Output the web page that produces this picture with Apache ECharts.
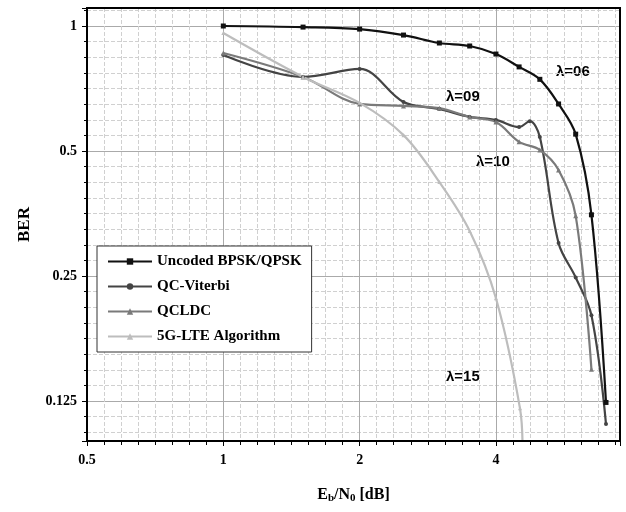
<!DOCTYPE html>
<html><head><meta charset="utf-8">
<script src="https://cdn.jsdelivr.net/npm/echarts@6/dist/echarts.min.js"></script>
<style>html,body{margin:0;padding:0;background:#fff}#c{width:626px;height:512px}</style>
</head><body><div id="c"></div>
<script>
const uncodedX = [1,1.5,2,2.5,3,3.5,4,4.5,5,5.5,6,6.5,7];
const uncodedY = [1,0.994,0.983,0.951,0.910,0.895,0.856,0.797,0.744,0.649,0.549,0.351,0.124];
const viterbiX = [1,1.5,2,2.5,3,3.5,4,4.5,4.75,5,5.5,6,6.5,7];
const viterbiY = [0.851,0.754,0.788,0.656,0.631,0.604,0.594,0.571,0.590,0.540,0.300,0.248,0.201,0.110];
const qcldcX = [1,1.5,2,2.5,3,3.5,4,4.5,5,5.5,6,6.5];
const qcldcY = [0.861,0.754,0.649,0.642,0.634,0.604,0.587,0.526,0.503,0.450,0.349,0.149];
const lteX = [1,1.5,2,2.5,3,3.5,4,4.52,4.58];
const lteY = [0.962,0.754,0.653,0.546,0.421,0.321,0.221,0.120,0.095];
const xTicks = [0.5,1,2,4];
const yTicks = [0.125,0.25,0.5,1];

const L = Math.log2;
const pts = (xs, ys) => xs.map((x,i)=>[L(x), L(ys[i])]);
const fmt = v => { const r = Math.round(v); if (Math.abs(v-r)>1e-6) return ''; const t = Math.pow(2,r); return String(t); };
const serif = 'Liberation Serif';
const mk = (name, xs, ys, color, symbol, size) => ({
  name, type:'line', data: pts(xs,ys), smooth:0.35, symbol, symbolSize:size,
  lineStyle:{color, width:2.2}, itemStyle:{color}, z:3, clip:true
});
const lam = 'bold 15px "Liberation Sans"';
const chart = echarts.init(document.getElementById('c'));
chart.setOption({
  animation:false,
  grid:{left:87, right:6, top:8, bottom:71},
  xAxis:{type:'value', min:L(0.5), max:2.91, splitNumber:4,
    axisLine:{onZero:false, lineStyle:{color:'#000', width:2}},
    axisTick:{show:true, inside:false, length:5, lineStyle:{color:'#000'}},
    minorTick:{show:true, splitNumber:8, length:4, lineStyle:{color:'#000'}},
    splitLine:{show:true, lineStyle:{color:'#aaa', width:1}},
    minorSplitLine:{show:true, lineStyle:{color:'#d0d0d0', type:'dashed'}},
    axisLabel:{formatter:fmt, showMaxLabel:false, color:'#000', fontFamily:serif, fontWeight:'bold', fontSize:14, margin:12},
    name:'{a|E}{s|b}{a|/N}{s|0}{a| [dB]}', nameLocation:'middle', nameGap:44,
    nameTextStyle:{rich:{a:{fontFamily:serif, fontWeight:'bold', fontSize:16, color:'#000'}, s:{fontFamily:serif, fontWeight:'bold', fontSize:11, color:'#000', verticalAlign:'bottom', padding:[8,0,0,0]}}}
  },
  yAxis:{type:'value', min:-3.32, max:0.144, splitNumber:4,
    axisLine:{show:true, onZero:false, lineStyle:{color:'#000', width:2}},
    axisTick:{show:true, inside:false, length:5, lineStyle:{color:'#000'}},
    minorTick:{show:true, splitNumber:8, length:3, lineStyle:{color:'#000'}},
    splitLine:{show:true, lineStyle:{color:'#aaa', width:1}},
    minorSplitLine:{show:true, lineStyle:{color:'#d0d0d0', type:'dashed'}},
    axisLabel:{formatter:fmt, showMinLabel:false, showMaxLabel:false, color:'#000', fontFamily:serif, fontWeight:'bold', fontSize:14, margin:10},
    name:'BER', nameLocation:'middle', nameGap:54, nameRotate:90,
    nameTextStyle:{fontFamily:serif, fontWeight:'bold', fontSize:17, color:'#000'}
  },
  legend:{orient:'vertical', left:97, top:246, itemGap:10, itemWidth:44, itemHeight:8,
    backgroundColor:'#fff', borderColor:'#333', borderWidth:1, padding:[8,10,8,10],
    textStyle:{fontFamily:serif, fontWeight:'bold', fontSize:15, color:'#000'}},
  graphic:[
    {type:'rect', shape:{x:87,y:8,width:533,height:433}, style:{fill:'none', stroke:'#000', lineWidth:2}, z:10, silent:true},
    {type:'text', left:556, top:64, style:{text:'λ=06', font:lam, fill:'#000'}},
    {type:'text', left:446, top:89, style:{text:'λ=09', font:lam, fill:'#000'}},
    {type:'text', left:476, top:154, style:{text:'λ=10', font:lam, fill:'#000'}},
    {type:'text', left:446, top:369, style:{text:'λ=15', font:lam, fill:'#000'}}
  ],
  series:[
    mk('Uncoded BPSK/QPSK', uncodedX, uncodedY, '#111', 'rect', 5),
    mk('QC-Viterbi', viterbiX, viterbiY, '#444', 'circle', 4),
    mk('QCLDC', qcldcX, qcldcY, '#7a7a7a', 'triangle', 5),
    mk('5G-LTE Algorithm', lteX, lteY, '#bdbdbd', 'triangle', 4)
  ]
});
</script></body></html>
